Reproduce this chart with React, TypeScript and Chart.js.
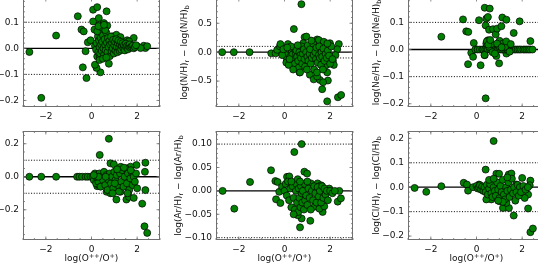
import React, { useEffect, useRef } from 'react';
import { Chart, registerables } from 'chart.js';
Chart.register(...registerables);

const FONT = '"DejaVu Sans", sans-serif';
const FS = 9;
const X_MIN = -3;
const X_MAX = 3;
const X_TICKS = [-2, 0, 2];
const X_MINOR_STEP = 0.5;
const X_TITLE = [{ t: 'log(O' }, { t: '++', s: 'sup' }, { t: '/O' }, { t: '+', s: 'sup' }, { t: ')' }];

// Panel 1 (top-left)
const p1X = [-2.72, -2.2, -1.55, -0.6, -0.44, -0.34, -0.38, -0.22, -0.26, -0.16, -0.04, 0.07, 0.25, 0.07, 0.13, 0.32, 0.35, 0.39, 0.47, 0.54, 0.66, 0.57, 0.69, 0.39, 0.22, 0.15, 0.25, 0.36, 0.76, 0.83, 0.91, 1.09, 1.27, 1.85, 1.56, 1.64, 2.0, 2.29, 2.36, 2.44, 2.15,
  0.15, 0.2, 0.22, 0.28, 0.3, 0.33, 0.35, 0.38, 0.4, 0.42, 0.45, 0.47, 0.5, 0.52, 0.55, 0.57, 0.6, 0.62, 0.65, 0.67, 0.7, 0.72, 0.75, 0.78, 0.8, 0.82, 0.85, 0.88, 0.9, 0.93, 0.95, 0.98, 1.0, 1.03, 1.05, 1.08, 1.1, 1.13, 1.15, 1.18, 1.2, 1.23, 1.25, 1.28, 1.3, 1.33, 1.36, 1.4, 1.43, 1.46, 1.5, 1.53, 1.56, 1.6, 1.63, 1.67, 1.7, 1.75, 1.8, 1.85, 1.9, 1.95, 0.25, 0.45, 0.6, 0.35, 0.5, 0.65, 0.3, 0.55];
const p1Y = [-0.014, -0.19, 0.049, 0.123, 0.072, 0.065, -0.073, -0.114, -0.011, 0.023, 0.031, 0.148, 0.158, 0.103, 0.072, 0.116, 0.091, 0.059, 0.061, 0.097, 0.142, 0.084, 0.087, -0.092, -0.075, -0.063, -0.031, -0.033, -0.059, -0.024, 0.046, 0.052, 0.043, 0.04, 0.031, 0.027, 0.008, 0.01, 0.001, 0.008, 0.001,
  0.01, -0.005, 0.02, 0.045, -0.015, 0.03, 0.005, -0.02, 0.04, 0.015, -0.01, 0.025, 0.05, 0.0, -0.025, 0.035, 0.012, -0.008, 0.06, 0.022, -0.015, 0.04, 0.005, 0.028, -0.03, 0.015, 0.045, -0.01, 0.02, 0.0, 0.033, -0.02, 0.012, 0.025, -0.008, 0.035, 0.005, -0.015, 0.02, 0.03, 0.0, -0.01, 0.015, 0.025, -0.005, 0.01, 0.02, 0.0, 0.012, -0.008, 0.018, 0.004, 0.01, -0.004, 0.008, 0.015, 0.002, 0.006, 0.01, 0.0, 0.005, 0.012, 0.065, 0.08, 0.07, -0.045, -0.04, -0.035, 0.085, 0.09];

// Panel 2: log(N/H)_r - log(N/H)_b
const p2X = [-2.73, -2.22, -1.53, -0.58, -0.39, -0.32, -0.2, -0.18, 0.15, 0.41, 0.74, 0.88, 0.96, 0.82, 1.43, 1.5, 1.72, 1.99, 2.38, 2.31, 2.23, 2.12, 1.87, 1.9, 1.65, 1.87, 2.34, 2.48, 0.66, 1.11, 1.28, 1.55, 1.69, 1.43, 1.72, 1.84, 2.16, 0.85, 0.41, 0.12,
  0.0, 0.05, 0.1, 0.15, 0.2, 0.25, 0.3, 0.32, 0.35, 0.4, 0.42, 0.45, 0.5, 0.52, 0.55, 0.6, 0.62, 0.65, 0.7, 0.72, 0.75, 0.78, 0.8, 0.85, 0.88, 0.9, 0.95, 1.0, 1.02, 1.05, 1.1, 1.12, 1.15, 1.2, 1.25, 1.28, 1.3, 1.35, 1.38, 1.4, 1.45, 1.5, 1.52, 1.55, 1.6, 1.62, 1.65, 1.7, 1.75, 1.8, 1.85, 1.9, 1.95, 2.0, 2.05, 2.1, 0.08, 0.18, 0.28, 0.38, 0.58, 0.68, 0.98, 1.18, 1.42, 1.68, 1.88, -0.1, -0.05, 0.12, 0.22];
const p2Y = [0, 0, 0, -0.02, -0.02, 0.04, 0.1, 0.14, 0.14, 0.4, 0.83, 0.26, 0.27, 0.155, 0.22, 0.21, 0.18, 0.155, 0.14, 0.05, -0.05, -0.15, -0.35, -0.49, -0.64, -0.85, -0.78, -0.74, -0.35, -0.39, -0.47, -0.48, -0.52, -0.42, -0.28, -0.22, -0.22, -0.19, -0.19, -0.16,
  -0.05, 0.02, -0.1, -0.02, 0.05, -0.08, -0.15, 0.0, -0.04, 0.08, -0.12, -0.2, -0.02, 0.03, -0.08, -0.15, -0.27, 0.0, -0.05, -0.1, 0.1, -0.2, -0.03, 0.05, -0.12, -0.25, 0.0, -0.08, 0.12, -0.15, -0.03, 0.05, -0.2, -0.1, 0.15, -0.05, -0.3, 0.0, -0.12, 0.08, -0.18, -0.05, 0.1, -0.1, -0.22, 0.0, -0.08, 0.06, -0.15, -0.03, -0.1, 0.03, -0.06, -0.2, 0.1, -0.12, -0.18, -0.22, 0.1, -0.3, 0.12, -0.35, -0.3, 0.2, -0.35, -0.3, 0.15, -0.05, 0.05, 0.08, -0.12];

// Panel 3: log(Ne/H)_r - log(Ne/H)_b
const p3X = [-1.54, -0.59, -0.45, -0.36, -0.37, -0.23, -0.15, -0.12, 0.11, 0.18, 0.36, 0.58, 0.43, 0.4, 0.5, 0.55, 0.4, 0.36, 0.43, 0.5, 0.58, 0.72, 0.84, 0.9, 0.87, 0.99, 1.09, 1.13, 1.31, 1.01, 1.16, 1.38, 1.63, 1.89, 2.36, 1.31,
  -0.05, 0.05, 0.15, 0.25, 0.3, 0.38, 0.45, 0.5, 0.6, 0.68, 0.75, 0.82, 0.9, 0.95, 1.05, 1.12, 1.2, 1.28, 1.35, 1.42, 1.5, 1.58, 1.65, 1.72, 1.8, 1.88, 1.95, 2.05, 2.12, 2.2, 2.28, 2.35, 2.45,
  0.55, 0.7, 0.65, 1.0, 1.25, 1.45, 0.45, 0.52, 0.9, 1.3, 1.5, 0.35, 0.6, 1.1, 0.8];
const p3Y = [0.047, 0.111, 0.067, 0.065, -0.054, -0.012, -0.027, 0.024, 0.108, -0.058, 0.154, 0.151, 0.114, 0.089, 0.12, 0.073, -0.18, -0.021, 0.022, 0.034, 0.028, 0.075, 0.056, 0.077, -0.024, -0.051, 0.086, 0.118, 0.11, 0.032, 0.022, 0.016, 0.061, 0.104, 0.031, -0.015,
  0, 0, 0, 0, 0, 0, 0, 0, 0, 0, 0, 0, 0, 0, 0, 0, 0, 0, 0, 0, 0, 0, 0, 0, 0, 0, 0, 0, 0, 0, 0, 0, 0,
  0.01, -0.01, 0.02, 0.012, 0.01, -0.008, 0.03, 0.018, 0.022, 0.03, 0.02, -0.02, 0.035, 0.008, -0.015];

// Panel 4 (bottom-left)
const p4X = [-2.72, -2.2, -1.55, -0.63, -0.53, -0.41, -0.26, -0.16, -0.04, 0.36, 0.76, 0.83, 0.98, 1.97, 2.36, 2.34, 2.36, 2.22, 2.32, 2.44, 1.09, 1.53, 1.64, 1.85, 0.66, 0.83, 1.27, 0.25, 0.32, 1.56, 1.71, 1.42, 1.2,
  0.05, 0.1, 0.15, 0.2, 0.25, 0.3, 0.35, 0.4, 0.45, 0.5, 0.55, 0.6, 0.65, 0.7, 0.75, 0.8, 0.85, 0.9, 0.95, 1.0, 1.05, 1.1, 1.15, 1.2, 1.25, 1.3, 1.35, 1.4, 1.45, 1.5, 1.55, 1.6, 1.65, 1.7, 1.75, 1.8, 1.85, 1.9, 1.95, 2.0, 0.2, 0.3, 0.1, 1.28, 1.42, 1.58, 1.12, 0.92, 0.62, 1.72, 1.02];
const p4Y = [0, 0, 0, 0, 0, 0, 0, 0, 0, 0.132, 0.23, 0.081, 0.075, 0.071, 0.085, 0.03, -0.081, -0.163, -0.3, -0.34, -0.138, -0.138, -0.122, -0.128, -0.091, -0.1, -0.091, -0.057, -0.051, 0.051, 0.061, 0.041, 0.03,
  0.0, -0.02, 0.02, -0.04, 0.01, -0.03, 0.02, -0.06, 0.0, -0.02, 0.03, -0.05, 0.01, -0.08, -0.02, 0.02, -0.04, 0.0, -0.07, 0.03, -0.02, 0.01, -0.05, -0.09, 0.02, -0.03, 0.04, -0.06, 0.0, 0.05, -0.04, 0.02, -0.08, -0.01, 0.03, -0.05, 0.0, -0.03, 0.02, -0.07, 0.0, 0.0, 0.01, 0.06, 0.055, -0.1, 0.045, -0.1, 0.0, 0.04, -0.04];

// Panel 5: log(Ar/H)_r - log(Ar/H)_b
const p5X = [-2.71, -2.2, -1.51, -0.59, -0.4, -0.3, -0.37, -0.23, -0.18, -0.11, 0.11, 0.21, 0.43, 0.75, 0.87, 0.99, 0.68, 0.75, 1.13, 0.5, 0.58, 1.31, 1.67, 1.53, 1.74, 2.33, 2.47, 2.4, 1.16, 1.45, 1.6, 1.96,
  0.0, 0.05, 0.1, 0.15, 0.2, 0.25, 0.3, 0.35, 0.4, 0.45, 0.5, 0.52, 0.55, 0.6, 0.62, 0.65, 0.7, 0.72, 0.75, 0.78, 0.8, 0.85, 0.88, 0.9, 0.95, 1.0, 1.05, 1.1, 1.15, 1.2, 1.25, 1.3, 1.35, 1.4, 1.45, 1.5, 1.55, 1.6, 1.65, 1.7, 1.75, 1.8, 1.85, 1.9, 2.0, 2.1, 2.2, 0.4, 0.3, 0.58, 0.68, 1.0];
const p5Y = [0, -0.038, 0.019, 0.044, 0.021, 0.019, -0.018, -0.002, -0.026, 0.009, 0.03, 0.031, 0.083, 0.1, 0.041, 0.037, -0.078, -0.059, -0.064, -0.045, -0.052, -0.034, -0.045, -0.038, -0.033, -0.023, -0.016, 0, 0.016, 0.016, 0.012, 0.005,
  0.0, 0.015, -0.01, 0.02, -0.02, 0.005, -0.035, 0.01, -0.015, -0.04, 0.0, 0.015, -0.025, -0.045, 0.005, -0.015, -0.035, 0.01, -0.005, -0.025, 0.0, -0.04, 0.015, -0.02, -0.01, -0.03, 0.005, -0.015, -0.04, 0.0, -0.02, 0.01, -0.005, -0.025, 0.008, -0.012, 0.0, -0.025, 0.01, -0.015, 0.005, -0.008, 0.0, -0.02, 0.0, -0.005, 0.0, -0.05, 0.02, 0.025, 0.02, 0.02];

// Panel 6: log(Cl/H)_r - log(Cl/H)_b
const p6X = [-2.71, -2.2, -1.54, -0.56, -0.42, -0.37, -0.15, 0.11, 0.4, 0.75, 0.87, 0.99, 1.41, 1.53, 1.74, 2.0, 2.36, 2.33, 2.26, 2.11, 2.26, 1.63, 1.16, 1.42, 2.36, 2.47, 1.31, 1.01, 0.65, 0.43,
  0.0, 0.05, 0.1, 0.15, 0.2, 0.25, 0.3, 0.35, 0.4, 0.45, 0.5, 0.55, 0.6, 0.65, 0.7, 0.75, 0.8, 0.85, 0.9, 0.95, 1.0, 1.05, 1.1, 1.15, 1.2, 1.25, 1.3, 1.35, 1.4, 1.45, 1.5, 1.55, 1.6, 1.65, 1.7, 1.75, 1.8, 1.85, 1.9, 1.95, 2.05, 2.15, 2.25, 0.55, 0.75, 1.35, 1.15, 0.95];
const p6Y = [-0.003, -0.019, 0.004, 0.018, 0.011, -0.014, 0, 0.011, 0.072, 0.189, 0.055, 0.055, 0.052, 0.056, 0.011, 0.038, 0.027, 0.008, -0.03, -0.044, -0.087, -0.116, -0.085, -0.085, -0.184, -0.169, -0.064, -0.057, -0.05, -0.05,
  0.005, -0.005, 0.0, 0.008, -0.01, 0.003, -0.015, 0.0, -0.02, 0.01, -0.03, -0.005, 0.012, -0.025, -0.04, 0.0, -0.015, -0.035, 0.02, -0.01, -0.045, 0.005, -0.02, 0.03, -0.03, -0.05, 0.0, -0.015, 0.02, -0.04, -0.01, 0.035, -0.025, 0.0, -0.055, -0.02, 0.01, -0.035, 0.0, -0.02, 0.005, -0.01, 0.0, 0.03, 0.035, 0.04, -0.06, -0.055];

type Part = { t: string; s?: 'sub' | 'sup' };
const yl = (el: string): Part[] => [
  { t: `log(${el}/H)` }, { t: 'r', s: 'sub' }, { t: ' − log(' + el + '/H)' }, { t: 'b', s: 'sub' },
];

const PANELS = [
  { xs: p1X, ys: p1Y, yMin: -0.225, yMax: 0.193, yTicks: [-0.2, -0.1, 0, 0.1], yMinor: 0.02, dec: 1, left: 23, top: -2, label: yl('O'), xTitle: false },
  { xs: p2X, ys: p2Y, yMin: -0.948, yMax: 0.937, yTicks: [-0.5, 0, 0.5], yMinor: 0.1, dec: 1, left: 216, top: -2, label: yl('N'), xTitle: false },
  { xs: p3X, ys: p3Y, yMin: -0.212, yMax: 0.19, yTicks: [-0.2, -0.1, 0, 0.1], yMinor: 0.02, dec: 1, left: 408, top: -2, label: yl('Ne'), xTitle: false },
  { xs: p4X, ys: p4Y, yMin: -0.383, yMax: 0.277, yTicks: [-0.2, 0, 0.2], yMinor: 0.05, dec: 1, left: 23, top: 131, label: yl('S'), xTitle: true },
  { xs: p5X, ys: p5Y, yMin: -0.105, yMax: 0.128, yTicks: [-0.1, -0.05, 0, 0.05, 0.1], yMinor: 0.01, dec: 2, left: 216, top: 131, label: yl('Ar'), xTitle: true },
  { xs: p6X, ys: p6Y, yMin: -0.216, yMax: 0.23, yTicks: [-0.2, -0.1, 0, 0.1, 0.2], yMinor: 0.02, dec: 1, left: 408, top: 131, label: yl('Cl'), xTitle: true },
];

const PW = 137;
const PH = 109;
const LW = 60;
const TP = 10;
const RP = 10;
const BH = 30;

const fmt = (v: number, d: number) => (v < -1e-9 ? '−' : '') + Math.abs(v).toFixed(d);

function drawRich(ctx: CanvasRenderingContext2D, parts: Part[], fs: number) {
  const sizes = parts.map((p) => (p.s ? fs * 0.7 : fs));
  const widths = parts.map((p, i) => {
    ctx.font = `${sizes[i]}px ${FONT}`;
    return ctx.measureText(p.t).width;
  });
  const total = widths.reduce((a, b) => a + b, 0);
  let x = -total / 2;
  ctx.textAlign = 'left';
  ctx.textBaseline = 'alphabetic';
  parts.forEach((p, i) => {
    ctx.font = `${sizes[i]}px ${FONT}`;
    const dy = p.s === 'sub' ? fs * 0.22 : p.s === 'sup' ? -fs * 0.38 : 0;
    ctx.fillText(p.t, x, dy);
    x += widths[i];
  });
}

function minorList(min: number, max: number, step: number) {
  const out: number[] = [];
  const start = Math.ceil(min / step - 1e-9);
  for (let k = start; k * step <= max + 1e-9; k++) out.push(k * step);
  return out;
}

function Panel({ cfg }: { cfg: (typeof PANELS)[number] }) {
  const ref = useRef<HTMLCanvasElement>(null);
  useEffect(() => {
    const decor = {
      id: 'decor',
      beforeDatasetsDraw(chart: any) {
        const { ctx, chartArea: a, scales } = chart;
        const ys = scales.y;
        ctx.save();
        ctx.strokeStyle = '#000';
        [-0.1, 0.1].forEach((v) => {
          const py = ys.getPixelForValue(v);
          ctx.lineWidth = 1;
          ctx.setLineDash([1, 1.7]);
          ctx.beginPath();
          ctx.moveTo(a.left, py);
          ctx.lineTo(a.right, py);
          ctx.stroke();
        });
        ctx.setLineDash([]);
        ctx.lineWidth = 1.3;
        const p0 = ys.getPixelForValue(0);
        ctx.beginPath();
        ctx.moveTo(a.left, p0);
        ctx.lineTo(a.right, p0);
        ctx.stroke();
        ctx.restore();
      },
      afterDraw(chart: any) {
        const { ctx, chartArea: a, scales } = chart;
        const xs = scales.x;
        const ys = scales.y;
        ctx.save();
        ctx.strokeStyle = '#707070';
        ctx.lineWidth = 1;
        ctx.strokeRect(a.left + 0.5, a.top + 0.5, a.right - a.left - 1, a.bottom - a.top - 1);
        ctx.lineWidth = 0.8;
        const tickX = (v: number, len: number) => {
          const px = xs.getPixelForValue(v);
          ctx.beginPath();
          ctx.moveTo(px, a.bottom);
          ctx.lineTo(px, a.bottom - len);
          ctx.moveTo(px, a.top);
          ctx.lineTo(px, a.top + len);
          ctx.stroke();
        };
        const tickY = (v: number, len: number) => {
          const py = ys.getPixelForValue(v);
          ctx.beginPath();
          ctx.moveTo(a.left, py);
          ctx.lineTo(a.left + len, py);
          ctx.moveTo(a.right, py);
          ctx.lineTo(a.right - len, py);
          ctx.stroke();
        };
        minorList(X_MIN, X_MAX, X_MINOR_STEP).forEach((v) => tickX(v, 2));
        X_TICKS.forEach((v) => tickX(v, 3.5));
        minorList(cfg.yMin, cfg.yMax, cfg.yMinor).forEach((v) => tickY(v, 2));
        cfg.yTicks.forEach((v) => tickY(v, 3.5));

        ctx.fillStyle = '#111';
        ctx.font = `${FS}px ${FONT}`;
        const maxW = Math.max(...cfg.yTicks.map((v) => ctx.measureText(fmt(v, cfg.dec)).width));
        const labelsLeft = a.left - 4 - maxW;
        ctx.save();
        ctx.translate(labelsLeft - 3, (a.top + a.bottom) / 2);
        ctx.rotate(-Math.PI / 2);
        drawRich(ctx, cfg.label, FS);
        ctx.restore();
        if (cfg.xTitle) {
          ctx.save();
          ctx.translate((a.left + a.right) / 2, a.bottom + 21);
          drawRich(ctx, X_TITLE as Part[], FS);
          ctx.restore();
        }
        ctx.restore();
      },
    };
    const chart = new Chart(ref.current!, {
      type: 'scatter',
      data: {
        datasets: [
          {
            data: cfg.xs.map((x, i) => ({ x, y: cfg.ys[i] })),
            backgroundColor: '#008000',
            borderColor: '#000',
            borderWidth: 0.7,
            pointRadius: 3.5,
            pointHoverRadius: 3.5,
          },
        ],
      },
      options: {
        responsive: false,
        animation: false,
        events: [],
        layout: { padding: { left: 0, top: TP, right: RP, bottom: 0 } },
        plugins: { legend: { display: false }, tooltip: { enabled: false } },
        scales: {
          x: {
            type: 'linear',
            min: X_MIN,
            max: X_MAX,
            grid: { display: false, drawTicks: false },
            border: { display: false },
            afterBuildTicks: (s: any) => {
              s.ticks = X_TICKS.map((v) => ({ value: v }));
            },
            afterFit: (s: any) => {
              s.height = BH;
            },
            ticks: {
              font: { family: FONT, size: FS },
              color: '#111',
              padding: 4,
              maxRotation: 0,
              autoSkip: false,
              callback: (v: any) => fmt(Number(v), 0),
            },
          },
          y: {
            type: 'linear',
            min: cfg.yMin,
            max: cfg.yMax,
            grid: { display: false, drawTicks: false },
            border: { display: false },
            afterBuildTicks: (s: any) => {
              s.ticks = cfg.yTicks.map((v) => ({ value: v }));
            },
            afterFit: (s: any) => {
              s.width = LW;
            },
            ticks: {
              font: { family: FONT, size: FS },
              color: '#111',
              padding: 4,
              autoSkip: false,
              callback: (v: any) => fmt(Number(v), cfg.dec),
            },
          },
        },
      },
      plugins: [decor],
    } as any);
    return () => chart.destroy();
  }, [cfg]);
  const w = LW + PW + RP;
  const h = TP + PH + BH;
  return (
    <canvas
      ref={ref}
      width={w}
      height={h}
      style={{ position: 'absolute', left: cfg.left - LW, top: cfg.top - TP, width: w, height: h }}
    />
  );
}

export default function App() {
  return (
    <div
      style={{
        position: 'fixed',
        left: 0,
        top: 0,
        width: 538,
        height: 263,
        overflow: 'hidden',
        background: '#fff',
      }}
    >
      {PANELS.map((p, i) => (
        <Panel key={i} cfg={p} />
      ))}
    </div>
  );
}
